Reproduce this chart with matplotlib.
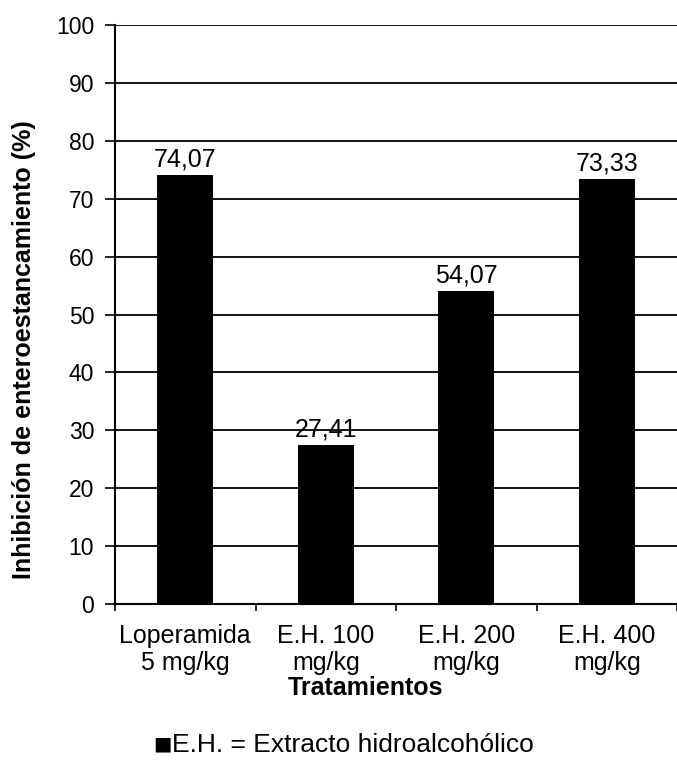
import numpy as np
import matplotlib.pyplot as plt

plt.rcParams['font.family'] = ['Liberation Sans', 'DejaVu Sans']

categorias = ["Loperamida\n5 mg/kg", "E.H. 100\nmg/kg", "E.H. 200\nmg/kg", "E.H. 400\nmg/kg"]
inhibicion = [74.07, 27.41, 54.07, 73.33]
etiquetas = ["74,07", "27,41", "54,07", "73,33"]
yticks = list(range(0, 101, 10))

fig = plt.figure(figsize=(6.77, 7.72), dpi=100)
ax = fig.add_axes([115 / 677, 1 - 604 / 772, 1 - 115 / 677, (604 - 25) / 772])

x = np.arange(len(categorias))
ax.bar(x, inhibicion, width=0.4, color="black", zorder=3)
for xi, v, t in zip(x, inhibicion, etiquetas):
    ax.text(xi, v + 0.6, t, ha="center", va="bottom", fontsize=18)

ax.set_ylim(0, 100)
ax.set_xlim(-0.5, 3.444)
ax.set_yticks(yticks)
ax.tick_params(axis="y", labelsize=16.5, length=7, width=1.2, direction="out", pad=8)
for t in yticks[1:]:
    ax.axhline(t, color="black", lw=1.3, zorder=1)

# category boundary ticks on x axis
ax.set_xticks([-0.5, 0.5, 1.5, 2.5, 3.5])
ax.set_xticklabels([])
ax.tick_params(axis="x", length=5, width=1.2, direction="out")
for xi, c in zip(x, categorias):
    ax.text(xi, -3.4, c, ha="center", va="top", fontsize=18, linespacing=1.2)

for s in ["top", "right"]:
    ax.spines[s].set_visible(False)
ax.spines["left"].set_linewidth(1.5)
ax.spines["bottom"].set_linewidth(1.5)

fig.text(24 / 677, 1 - 350 / 772, "Inhibición de enteroestancamiento (%)", rotation=90,
         ha="center", va="center", fontsize=18, fontweight="bold")

fig.text(365 / 677, 1 - 688 / 772, "Tratamientos", ha="center", va="center", fontsize=18, fontweight="bold")
fig.text(153 / 677, 1 - 744 / 772, "\u25a0", ha="left", va="center", fontsize=14, family=["DejaVu Sans"])
fig.text(172 / 677, 1 - 745 / 772, "E.H. = Extracto hidroalcohólico", ha="left", va="center", fontsize=19)

fig.savefig("out.png", dpi=100)
